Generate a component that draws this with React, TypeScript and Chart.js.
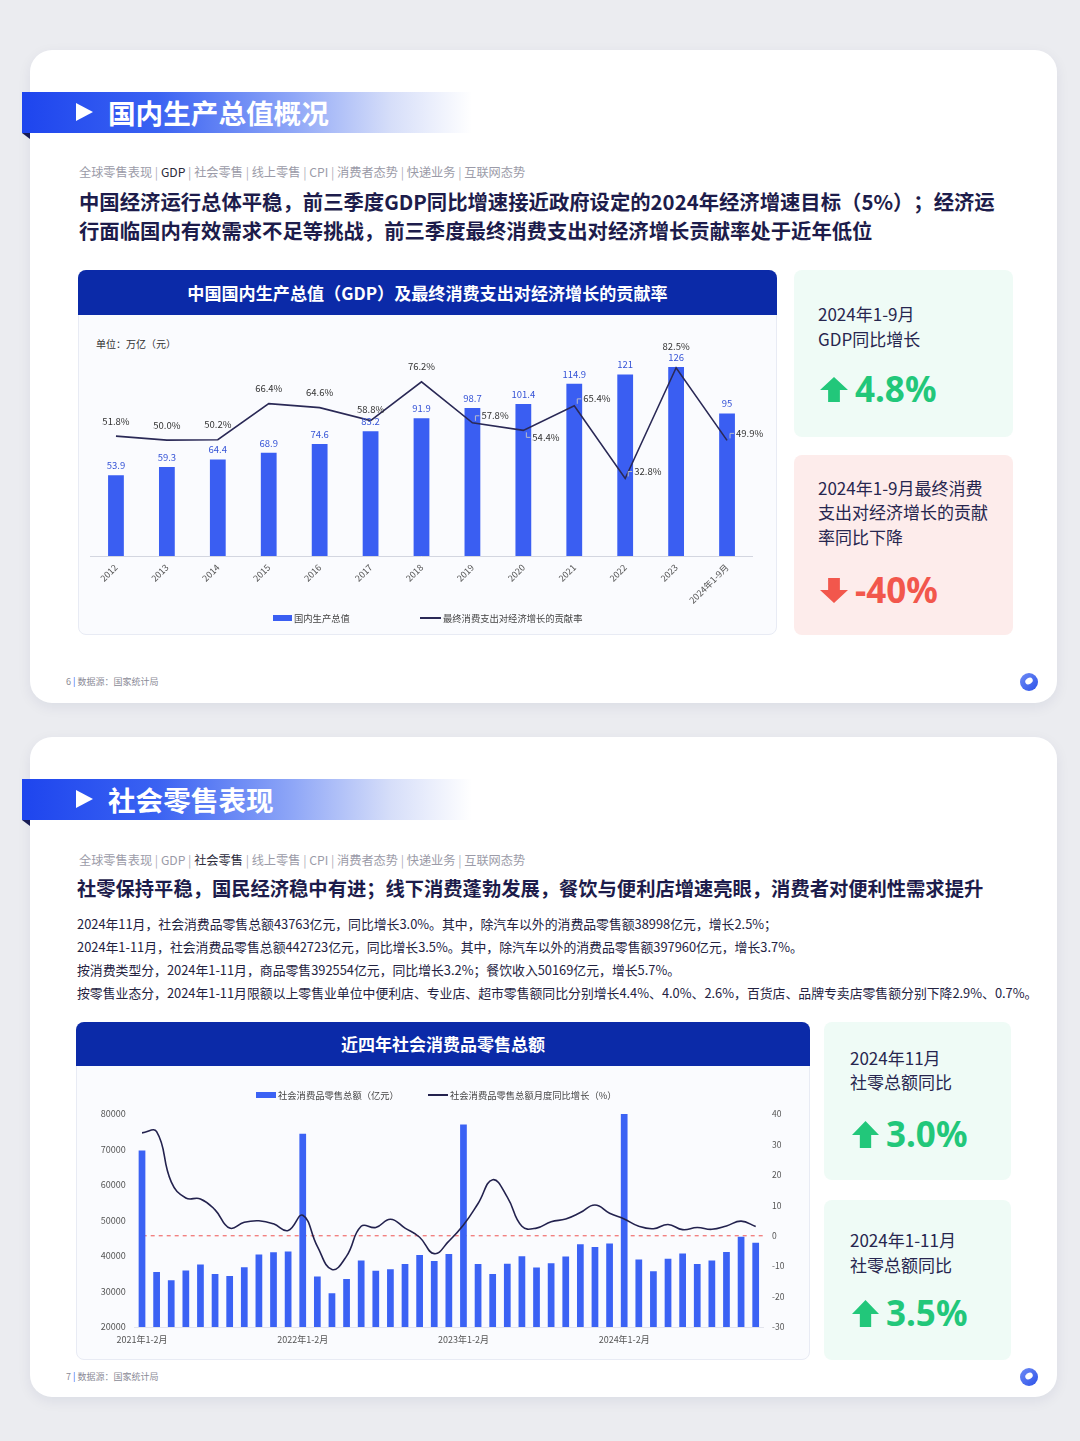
import React, { useEffect, useRef } from "react";
import { Chart, registerables } from "chart.js";

Chart.register(...registerables);

const FONT = "'Noto Sans CJK SC','Noto Sans',sans-serif";
const NAVY = "#1d1c4b";
const BAR_BLUE = "#3a5ef2";
const LINE_NAVY = "#2a2956";

// ---------- Chart 1 data ----------
const gdpCategories = ["2012", "2013", "2014", "2015", "2016", "2017", "2018", "2019", "2020", "2021", "2022", "2023", "2024年1-9月"];
const gdpValues = [53.9, 59.3, 64.4, 68.9, 74.6, 83.2, 91.9, 98.7, 101.4, 114.9, 121, 126, 95];
const consumptionContribution = [51.8, 50.0, 50.2, 66.4, 64.6, 58.8, 76.2, 57.8, 54.4, 65.4, 32.8, 82.5, 49.9];
const contributionLabelSide = ["top", "top", "top", "top", "top", "topNear", "top", "right", "rightBelow", "right", "right", "topFar", "right"];

// ---------- Chart 2 data ----------
const retailMonths = [
  "2021年1-2月", "2021年3月", "2021年4月", "2021年5月", "2021年6月", "2021年7月", "2021年8月", "2021年9月", "2021年10月", "2021年11月", "2021年12月",
  "2022年1-2月", "2022年3月", "2022年4月", "2022年5月", "2022年6月", "2022年7月", "2022年8月", "2022年9月", "2022年10月", "2022年11月", "2022年12月",
  "2023年1-2月", "2023年3月", "2023年4月", "2023年5月", "2023年6月", "2023年7月", "2023年8月", "2023年9月", "2023年10月", "2023年11月", "2023年12月",
  "2024年1-2月", "2024年3月", "2024年4月", "2024年5月", "2024年6月", "2024年7月", "2024年8月", "2024年9月", "2024年10月", "2024年11月",
];
const retailTotals = [
  69737, 35484, 33153, 35945, 37586, 34925, 34395, 36833, 40454, 41043, 41269,
  74426, 34233, 29483, 33547, 38742, 35870, 36258, 37745, 40271, 38615, 40542,
  77067, 37779, 34910, 37803, 39951, 36761, 37933, 39826, 43333, 42505, 43550,
  80000, 39020, 35699, 39211, 40732, 37757, 38726, 41112, 45396, 43763,
];
const retailYoY = [
  33.8, 34.2, 17.7, 12.4, 12.1, 8.5, 2.5, 4.4, 4.9, 3.9, 1.7,
  6.7, -3.5, -11.1, -6.7, 3.1, 2.7, 5.4, 2.5, -0.5, -5.9, -1.8,
  3.5, 10.6, 18.4, 12.7, 3.1, 2.5, 4.6, 5.5, 7.6, 10.1, 7.4,
  5.5, 3.1, 2.3, 3.7, 2.0, 2.7, 2.1, 3.2, 4.8, 3.0,
];

const gdpLabelPlugin = {
  id: "gdpLabels",
  afterDatasetsDraw(chart: any) {
    const ctx = chart.ctx;
    ctx.save();
    const barMeta = chart.getDatasetMeta(0);
    ctx.font = `9.5px ${FONT}`;
    ctx.fillStyle = "#3553d6";
    ctx.textAlign = "center";
    ctx.textBaseline = "bottom";
    barMeta.data.forEach((el: any, i: number) => {
      ctx.fillText(String(gdpValues[i]), el.x, el.y - 5);
    });
    const lineMeta = chart.getDatasetMeta(1);
    lineMeta.data.forEach((el: any, i: number) => {
      const txt = consumptionContribution[i].toFixed(1) + "%";
      const side = contributionLabelSide[i];
      ctx.fillStyle = "#333";
      ctx.font = `9.5px ${FONT}`;
      if (side.startsWith("top")) {
        const dy = side === "topNear" ? 11 : side === "topFar" ? 21 : 15;
        ctx.textAlign = "center";
        ctx.textBaseline = "middle";
        ctx.fillText(txt, el.x, el.y - dy);
      } else {
        const dy = side === "rightBelow" ? 7 : -7;
        ctx.strokeStyle = "#b9bdcc";
        ctx.lineWidth = 1;
        ctx.beginPath();
        ctx.moveTo(el.x + 3, el.y + (dy > 0 ? 2 : -2));
        ctx.lineTo(el.x + 3, el.y + dy);
        ctx.lineTo(el.x + 7, el.y + dy);
        ctx.stroke();
        ctx.textAlign = "left";
        ctx.textBaseline = "middle";
        ctx.fillText(txt, el.x + 9, el.y + dy);
      }
    });
    ctx.restore();
  },
};

const zeroLinePlugin = {
  id: "zeroLine",
  beforeDatasetsDraw(chart: any) {
    const ctx = chart.ctx;
    const y = chart.scales.y1.getPixelForValue(0);
    const { left, right } = chart.chartArea;
    ctx.save();
    ctx.strokeStyle = "#f27a7a";
    ctx.lineWidth = 1.3;
    ctx.setLineDash([4, 4]);
    ctx.beginPath();
    ctx.moveTo(left + 8, y);
    ctx.lineTo(right, y);
    ctx.stroke();
    ctx.restore();
  },
};

function GdpChart() {
  const ref = useRef<HTMLCanvasElement | null>(null);
  useEffect(() => {
    if (!ref.current) return;
    const chart = new Chart(ref.current, {
      type: "bar",
      data: {
        labels: gdpCategories,
        datasets: [
          {
            type: "bar",
            label: "国内生产总值",
            data: gdpValues,
            backgroundColor: BAR_BLUE,
            barPercentage: 0.31,
            categoryPercentage: 1,
            yAxisID: "y",
            order: 2,
          },
          {
            type: "line",
            label: "最终消费支出对经济增长的贡献率",
            data: consumptionContribution,
            borderColor: LINE_NAVY,
            borderWidth: 1.6,
            pointRadius: 0,
            tension: 0,
            yAxisID: "y1",
            order: 1,
          } as any,
        ],
      },
      options: {
        responsive: false,
        animation: false,
        layout: { padding: { left: 12.5, right: 24.5, top: 16, bottom: 0 } },
        plugins: { legend: { display: false }, tooltip: { enabled: false } },
        scales: {
          x: {
            grid: { display: false, drawTicks: false },
            border: { color: "#d3d6e0" },
            ticks: {
              autoSkip: false,
              minRotation: 45,
              maxRotation: 45,
              padding: 6,
              color: "#555",
              font: { size: 9, family: FONT },
            },
            afterFit: (s: any) => {
              s.height = 79;
            },
          },
          y: { display: false, min: 0, max: 150 },
          y1: { display: false, min: -2, max: 99, position: "right" },
        },
      } as any,
      plugins: [gdpLabelPlugin],
    });
    return () => chart.destroy();
  }, []);
  return <canvas ref={ref} width={699} height={320} style={{ position: "absolute", left: 78, top: 315, width: 699, height: 320 }} />;
}

function RetailChart() {
  const ref = useRef<HTMLCanvasElement | null>(null);
  useEffect(() => {
    if (!ref.current) return;
    const chart = new Chart(ref.current, {
      type: "bar",
      data: {
        labels: retailMonths,
        datasets: [
          {
            type: "bar",
            label: "社会消费品零售总额（亿元）",
            data: retailTotals,
            backgroundColor: "#3b62f4",
            barPercentage: 0.46,
            categoryPercentage: 1,
            yAxisID: "y",
            order: 2,
          },
          {
            type: "line",
            label: "社会消费品零售总额月度同比增长（%）",
            data: retailYoY,
            borderColor: "#23224e",
            borderWidth: 1.6,
            pointRadius: 0,
            tension: 0.45,
            yAxisID: "y1",
            order: 1,
          } as any,
        ],
      },
      options: {
        responsive: false,
        animation: false,
        layout: { padding: { left: 0, right: 0, top: 48, bottom: 0 } },
        plugins: { legend: { display: false }, tooltip: { enabled: false } },
        scales: {
          x: {
            grid: { display: false, drawTicks: false },
            border: { color: "#e2e4ec" },
            ticks: {
              autoSkip: false,
              maxRotation: 0,
              minRotation: 0,
              padding: 7,
              color: "#555",
              font: { size: 9, family: FONT },
              callback: (_v: any, i: number) => (i % 11 === 0 ? retailMonths[i] : ""),
            },
            afterFit: (s: any) => {
              s.height = 33;
            },
          },
          y: {
            min: 20000,
            max: 80000,
            grid: { display: false, drawTicks: false },
            border: { display: false },
            ticks: { stepSize: 10000, padding: 9, color: "#555", font: { size: 9, family: FONT }, callback: (v: any) => String(v) },
            afterFit: (s: any) => {
              s.width = 58.7;
            },
          },
          y1: {
            position: "right",
            min: -30,
            max: 40,
            grid: { display: false, drawTicks: false },
            border: { display: false },
            ticks: { stepSize: 10, padding: 9, color: "#555", font: { size: 8.5, family: FONT } },
            afterFit: (s: any) => {
              s.width = 47;
            },
          },
        },
      } as any,
      plugins: [zeroLinePlugin],
    });
    return () => chart.destroy();
  }, []);
  return <canvas ref={ref} width={734} height={294} style={{ position: "absolute", left: 76, top: 1066, width: 734, height: 294 }} />;
}

const abs = (left: number, top: number, extra: any = {}): React.CSSProperties => ({ position: "absolute", left, top, ...extra });

function TitleBand({ y, text }: { y: number; text: string }) {
  return (
    <>
      <div
        style={abs(22, y, {
          width: 450,
          height: 41,
          background: "linear-gradient(90deg,#1e45ee 0%,#3a62f2 30%,#8ea6f7 60%,#d6def9 82%,rgba(255,255,255,0) 100%)",
        })}
      />
      <div style={abs(22, y + 41, { width: 0, height: 0, borderTop: "6px solid #171c55", borderLeft: "8px solid transparent" })} />
      <div
        style={abs(76, y + 11, {
          width: 0,
          height: 0,
          borderLeft: "17px solid #fff",
          borderTop: "9.5px solid transparent",
          borderBottom: "9.5px solid transparent",
        })}
      />
      <div style={abs(108, y, { height: 41, lineHeight: "41px", fontSize: 27.6, fontWeight: 700, color: "#fff", whiteSpace: "nowrap" })}>{text}</div>
    </>
  );
}

function Nav({ y, active }: { y: number; active: string }) {
  const items = ["全球零售表现", "GDP", "社会零售", "线上零售", "CPI", "消费者态势", "快递业务", "互联网态势"];
  return (
    <div style={abs(79, y - 9, { height: 18, lineHeight: "18px", fontSize: 12.2, color: "#9b9ba8", whiteSpace: "nowrap" })}>
      {items.map((it, i) => (
        <span key={it}>
          {i > 0 ? <span style={{ color: "#b0b0bb" }}>&nbsp;|&nbsp;</span> : null}
          <span style={{ color: it === active ? "#2b2b3b" : "#9b9ba8" }}>{it}</span>
        </span>
      ))}
    </div>
  );
}

function Arrow({ up, color, x, y, w, h }: { up: boolean; color: string; x: number; y: number; w: number; h: number }) {
  const hh = h * 0.52;
  const s1 = w * 0.29;
  const s2 = w * 0.71;
  const d = up
    ? `M${w / 2} 0 L${w} ${hh} L${s2} ${hh} L${s2} ${h} L${s1} ${h} L${s1} ${hh} L0 ${hh} Z`
    : `M${w / 2} ${h} L${w} ${h - hh} L${s2} ${h - hh} L${s2} 0 L${s1} 0 L${s1} ${h - hh} L0 ${h - hh} Z`;
  return (
    <svg width={w} height={h} style={abs(x, y)}>
      <path d={d} fill={color} />
    </svg>
  );
}

function StatCard(props: {
  x: number; y: number; w: number; h: number; bg: string; lines: string[]; lineY: number[];
  value: string; valueY: number; up: boolean; color: string; textX: number; arrowW: number; arrowH: number;
}) {
  const { x, y, w, h, bg, lines, lineY, value, valueY, up, color, textX, arrowW, arrowH } = props;
  return (
    <>
      <div style={abs(x, y, { width: w, height: h, background: bg, borderRadius: 8 })} />
      {lines.map((l, i) => (
        <div key={i} style={abs(textX, lineY[i] - 12, { height: 24, lineHeight: "24px", fontSize: 17, color: "#27264f", whiteSpace: "nowrap" })}>
          {l}
        </div>
      ))}
      <Arrow up={up} color={color} x={textX + 2} y={valueY - arrowH / 2} w={arrowW} h={arrowH} />
      <div
        style={abs(textX + arrowW + 9, valueY - 22, {
          height: 44,
          lineHeight: "44px",
          fontSize: 35,
          fontWeight: 700,
          color,
          fontFamily: "'Noto Sans','Noto Sans CJK SC',sans-serif",
          whiteSpace: "nowrap",
        })}
      >
        {value}
      </div>
    </>
  );
}

function Footer({ y, page }: { y: number; page: string }) {
  return (
    <>
      <div style={abs(66, y - 7, { height: 14, lineHeight: "14px", fontSize: 9, color: "#8a8a96", whiteSpace: "nowrap" })}>
        {page} <span style={{ color: "#3a5ef2" }}>|</span> 数据源：国家统计局
      </div>
      <div
        style={abs(1020, y - 9, {
          width: 18,
          height: 18,
          borderRadius: "50%",
          background: "linear-gradient(135deg,#6f8cf6,#2c52e8)",
        })}
      />
      <div style={abs(1025, y - 4, { width: 8, height: 6, borderRadius: "50%", background: "#fff", transform: "rotate(-35deg)" })} />
    </>
  );
}

function LegendItem({ x, y, kind, color, text, w }: { x: number; y: number; kind: "bar" | "line"; color: string; text: string; w: number }) {
  return (
    <>
      {kind === "bar" ? (
        <div style={abs(x, y - 3, { width: w, height: 6, background: color })} />
      ) : (
        <div style={abs(x, y - 1, { width: w, height: 2, background: color })} />
      )}
      <div style={abs(x + w + 2, y - 7, { height: 14, lineHeight: "14px", fontSize: 9.3, color: "#444", whiteSpace: "nowrap" })}>{text}</div>
    </>
  );
}

export default function App() {
  return (
    <div
      style={{
        position: "absolute",
        left: 0,
        top: 0,
        width: 1080,
        height: 1441,
        background: "#ebecf0",
        overflow: "hidden",
        fontFamily: FONT,
        textSpacingTrim: "space-all",
      } as any}
    >
      {/* Card 1 */}
      <div style={abs(30, 50, { width: 1027, height: 653, background: "#fff", borderRadius: 22, boxShadow: "0 4px 14px rgba(20,30,80,0.07)" })} />
      <TitleBand y={92} text="国内生产总值概况" />
      <Nav y={172} active="GDP" />
      <div style={abs(79, 187, { fontSize: 20.35, fontWeight: 700, color: NAVY, lineHeight: "29px", whiteSpace: "nowrap" })}>
        <div>中国经济运行总体平稳，前三季度GDP同比增速接近政府设定的2024年经济增速目标（5%）；经济运</div>
        <div>行面临国内有效需求不足等挑战，前三季度最终消费支出对经济增长贡献率处于近年低位</div>
      </div>

      <div style={abs(78, 270, { width: 699, height: 365, background: "#fafbfe", border: "1px solid #e8ebf4", boxSizing: "border-box", borderRadius: 8 })} />
      <div style={abs(78, 270, { width: 699, height: 45, background: "#0b2aa8", borderRadius: "8px 8px 0 0" })} />
      <div style={abs(78, 270, { width: 699, height: 45, lineHeight: "45px", textAlign: "center", color: "#fff", fontSize: 17.1, fontWeight: 700 })}>
        中国国内生产总值（GDP）及最终消费支出对经济增长的贡献率
      </div>
      <div style={abs(96, 337, { height: 14, lineHeight: "14px", fontSize: 10, color: "#333", whiteSpace: "nowrap" })}>单位：万亿（元）</div>
      <GdpChart />
      <LegendItem x={273} y={618} kind="bar" color={BAR_BLUE} text="国内生产总值" w={19} />
      <LegendItem x={420} y={618} kind="line" color={LINE_NAVY} text="最终消费支出对经济增长的贡献率" w={21} />

      <StatCard x={794} y={270} w={219} h={167} bg="#effbf6" lines={["2024年1-9月", "GDP同比增长"]} lineY={[314, 339]} value="4.8%" valueY={389} up={true} color="#22c77a" textX={818} arrowW={28} arrowH={25} />
      <StatCard x={794} y={455} w={219} h={180} bg="#fdeceb" lines={["2024年1-9月最终消费", "支出对经济增长的贡献", "率同比下降"]} lineY={[488, 512, 537]} value="-40%" valueY={590} up={false} color="#f2574c" textX={818} arrowW={28} arrowH={25} />

      <Footer y={682} page="6" />

      {/* Card 2 */}
      <div style={abs(30, 737, { width: 1027, height: 660, background: "#fff", borderRadius: 22, boxShadow: "0 4px 14px rgba(20,30,80,0.07)" })} />
      <TitleBand y={779} text="社会零售表现" />
      <Nav y={860} active="社会零售" />
      <div style={abs(77, 874, { fontSize: 19.3, fontWeight: 700, color: NAVY, lineHeight: "28px", whiteSpace: "nowrap" })}>
        社零保持平稳，国民经济稳中有进；线下消费蓬勃发展，餐饮与便利店增速亮眼，消费者对便利性需求提升
      </div>
      <div style={abs(77, 912, { fontSize: 12.85, color: "#23223f", lineHeight: "23px", whiteSpace: "nowrap" })}>
        <div>2024年11月，社会消费品零售总额43763亿元，同比增长3.0%。其中，除汽车以外的消费品零售额38998亿元，增长2.5%；</div>
        <div>2024年1-11月，社会消费品零售总额442723亿元，同比增长3.5%。其中，除汽车以外的消费品零售额397960亿元，增长3.7%。</div>
        <div>按消费类型分，2024年1-11月，商品零售392554亿元，同比增长3.2%；餐饮收入50169亿元，增长5.7%。</div>
        <div>按零售业态分，2024年1-11月限额以上零售业单位中便利店、专业店、超市零售额同比分别增长4.4%、4.0%、2.6%，百货店、品牌专卖店零售额分别下降2.9%、0.7%。</div>
      </div>

      <div style={abs(76, 1022, { width: 734, height: 338, background: "#fafbfe", border: "1px solid #e8ebf4", boxSizing: "border-box", borderRadius: 8 })} />
      <div style={abs(76, 1022, { width: 734, height: 44, background: "#0b2aa8", borderRadius: "8px 8px 0 0" })} />
      <div style={abs(76, 1022, { width: 734, height: 44, lineHeight: "44px", textAlign: "center", color: "#fff", fontSize: 17, fontWeight: 700 })}>
        近四年社会消费品零售总额
      </div>
      <RetailChart />
      <LegendItem x={256} y={1095} kind="bar" color="#3b62f4" text="社会消费品零售总额（亿元）" w={20} />
      <LegendItem x={428} y={1095} kind="line" color="#23224e" text="社会消费品零售总额月度同比增长（%）" w={20} />

      <StatCard x={824} y={1022} w={187} h={158} bg="#effbf6" lines={["2024年11月", "社零总额同比"]} lineY={[1058, 1082]} value="3.0%" valueY={1134} up={true} color="#22c77a" textX={850} arrowW={27} arrowH={27} />
      <StatCard x={824} y={1200} w={187} h={160} bg="#effbf6" lines={["2024年1-11月", "社零总额同比"]} lineY={[1240, 1265]} value="3.5%" valueY={1313} up={true} color="#22c77a" textX={850} arrowW={27} arrowH={27} />

      <Footer y={1377} page="7" />
    </div>
  );
}
